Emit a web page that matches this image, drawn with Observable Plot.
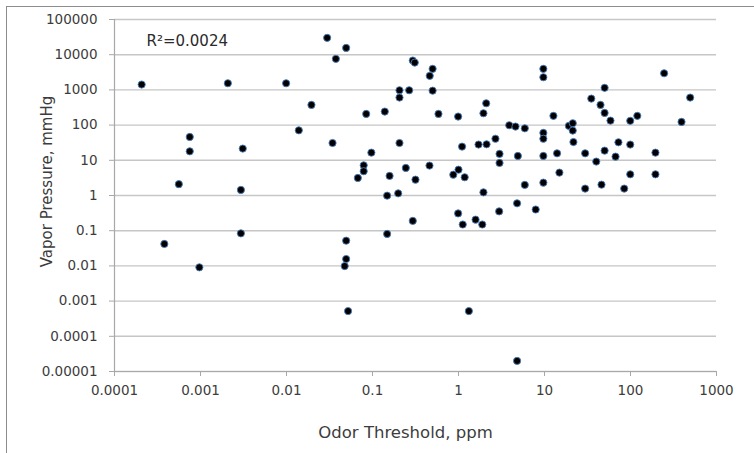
<!DOCTYPE html>
<html>
<head>
<meta charset="utf-8">
<script src="https://cdn.jsdelivr.net/npm/d3@7"></script>
<script src="https://cdn.jsdelivr.net/npm/@observablehq/plot@0.6"></script>
<style>
  html, body { margin: 0; padding: 0; background: #fff; overflow: hidden; }
  #wrap { position: relative; width: 754px; height: 453px; overflow: hidden; }
  #frame { position: absolute; left: 6px; top: 6px; width: 900px; height: 600px;
           border-left: 1.5px solid #8c8c8c; border-top: 1.5px solid #8c8c8c; pointer-events: none; }
  #chart { position: absolute; left: 0; top: 0; }
</style>
</head>
<body>
<div id="wrap"><div id="chart"></div><div id="frame"></div></div>
<script>
// Odor threshold (ppm) and vapor pressure (mmHg)
const odorThreshold = [
  0.000207, 0.00208, 0.0099, 0.0195, 0.0139, 0.00075, 0.00075, 0.0031, 0.00056, 0.00295,
  0.00295, 0.00038, 0.00097, 0.0297, 0.0494, 0.0375, 0.294, 0.31, 0.50, 0.463,
  0.206, 0.267, 0.50, 0.206, 0.0845, 0.139, 0.585, 0.99, 2.1, 1.95,
  3.89, 4.6, 0.0343, 0.097, 0.206, 0.079, 0.079, 0.0675, 0.158, 0.244,
  0.316, 0.46, 0.148, 0.199, 1.1, 1.71, 2.12, 2.69, 3.0, 3.0,
  4.9, 1.0, 0.87, 1.18, 1.95, 4.8, 0.294, 0.99, 1.12, 1.58,
  1.89, 2.97, 0.148, 0.0494, 0.0494, 0.0475, 0.052, 1.32, 4.8, 7.9,
  9.7, 9.7, 246, 50, 35, 44.8, 50, 58.5, 99.3, 120,
  494, 392, 12.7, 5.9, 9.7, 9.7, 19.2, 21.3, 21.3, 21.7,
  9.7, 14, 29.7, 40, 50, 67, 72.4, 99.3, 195, 195,
  99.3, 14.9, 5.9, 9.7, 29.7, 46, 84.5
];
const vaporPressure = [
  1420, 1545, 1545, 375, 71, 46, 18, 21.5, 2.1, 1.44,
  0.084, 0.042, 0.0091, 30100, 15600, 7620, 6830, 5960, 3960, 2505,
  977, 977, 950, 605, 208, 242, 208, 175, 417, 217,
  99, 91, 31, 16.5, 31, 7.2, 4.9, 3.15, 3.6, 6.07,
  2.82, 7.06, 0.99, 1.15, 24.5, 28, 28.5, 41, 15.2, 8.4,
  13.3, 5.4, 3.9, 3.3, 1.23, 0.6, 0.19, 0.31, 0.15, 0.206,
  0.15, 0.354, 0.081, 0.052, 0.0157, 0.0099, 0.00052, 0.00052, 0.00002, 0.40,
  3960, 2290, 2970, 1143, 567, 375, 222, 134, 132, 183,
  605, 123, 183, 81, 60, 41, 95, 113, 70, 33,
  13.3, 15.8, 15.8, 9.2, 18.8, 12.7, 32.5, 28, 16.5, 4.0,
  4.0, 4.47, 2.0, 2.32, 1.57, 2.03, 1.57
];
const xTicks = [0.0001, 0.001, 0.01, 0.1, 1, 10, 100, 1000];
const xTickLabels = ["0.0001", "0.001", "0.01", "0.1", "1", "10", "100", "1000"];
const yTicks = [0.00001, 0.0001, 0.001, 0.01, 0.1, 1, 10, 100, 1000, 10000, 100000];
const yTickLabels = ["0.00001", "0.0001", "0.001", "0.01", "0.1", "1", "10", "100", "1000", "10000", "100000"];
const xTitle = "Odor Threshold, ppm";
const yTitle = "Vapor Pressure, mmHg";
const r2Label = "R²=0.0024";

const points = odorThreshold.map((x, i) => ({x, y: vaporPressure[i]}));

const chart = Plot.plot({
  width: 754,
  height: 453,
  marginLeft: 114,
  marginRight: 38,
  marginTop: 19,
  marginBottom: 82,
  style: {fontFamily: "DejaVu Sans", fontSize: "13.5px", color: "#3c3c3c", background: "transparent"},
  x: {type: "log", domain: [0.0001, 1000]},
  y: {type: "log", domain: [0.00001, 100000]},
  marks: [
    Plot.gridY(yTicks, {stroke: "#c6c6c6", strokeOpacity: 1, strokeWidth: 1.4}),
    Plot.ruleX([0.0001], {stroke: "#a8a8a8", strokeWidth: 1.2}),
    Plot.ruleY([0.00001], {stroke: "#a8a8a8", strokeWidth: 1.2}),
    Plot.axisY(yTicks, {
      tickSize: 5, tickPadding: 12, label: null,
      stroke: "#a8a8a8", fill: "#3c3c3c", fontSize: 13.5,
      tickFormat: d => yTickLabels[yTicks.indexOf(d)]
    }),
    Plot.axisX(xTicks, {
      tickSize: 5, tickPadding: 9, label: null,
      stroke: "#a8a8a8", fill: "#3c3c3c", fontSize: 13.5,
      tickFormat: d => xTickLabels[xTicks.indexOf(d)]
    }),
    Plot.dot(points, {x: "x", y: "y", r: 3.6, fill: "#000", stroke: "#4a7ebb", strokeWidth: 0.9}),
    Plot.text([xTitle], {frameAnchor: "bottom", textAnchor: "middle", lineAnchor: "middle", dx: -10, dy: 61, fontSize: 16.5, fill: "#3c3c3c"}),
    Plot.text([yTitle], {frameAnchor: "left", textAnchor: "middle", lineAnchor: "middle", rotate: -90, dx: -67.5, dy: -14, fontSize: 15, fill: "#3c3c3c"}),
    Plot.text([r2Label], {frameAnchor: "top-left", textAnchor: "start", lineAnchor: "middle", dx: 32, dy: 22, fontSize: 15, fill: "#2a2a2a"})
  ]
});
document.getElementById("chart").appendChild(chart);
</script>
</body>
</html>
